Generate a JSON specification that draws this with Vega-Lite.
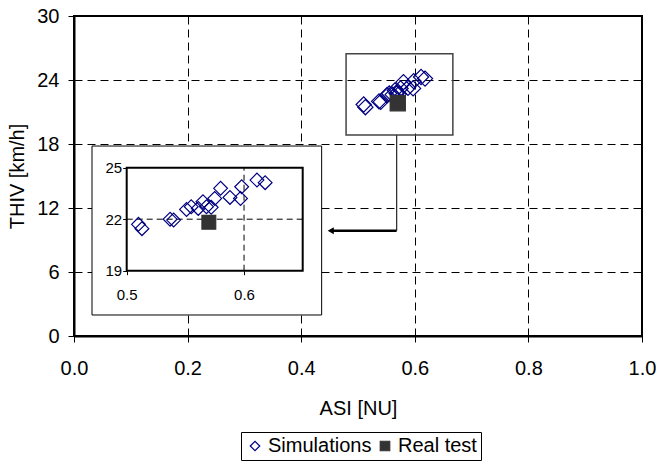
{
  "$schema": "https://vega.github.io/schema/vega-lite/v6.json",
  "width": 568,
  "height": 320,
  "autosize": {"type": "none"},
  "padding": {"left": 74, "top": 16, "right": 14, "bottom": 129},
  "background": "white",
  "config": {
    "font": "Liberation Sans",
    "view": {"stroke": "black", "strokeWidth": 2},
    "axis": {"labelColor": "black", "titleColor": "black", "titleFontWeight": "normal", "labelFlush": false, "labelOverlap": false, "tickColor": "black", "domainColor": "black"},
    "legend": {"orient": "none", "legendX": 167, "legendY": 416, "direction": "horizontal", "title": null, "strokeColor": "black", "padding": 4, "labelFontSize": 20, "labelColor": "black", "symbolSize": 90, "symbolStrokeWidth": 1.2, "columnPadding": 3, "labelOffset": 3}
  },
  "datasets": {
    "pts": [
      {"asi": 0.510, "thiv": 21.70, "series": "Simulations"},
      {"asi": 0.513, "thiv": 21.45, "series": "Simulations"},
      {"asi": 0.537, "thiv": 22.00, "series": "Simulations"},
      {"asi": 0.540, "thiv": 21.95, "series": "Simulations"},
      {"asi": 0.551, "thiv": 22.57, "series": "Simulations"},
      {"asi": 0.555, "thiv": 22.73, "series": "Simulations"},
      {"asi": 0.561, "thiv": 22.63, "series": "Simulations"},
      {"asi": 0.565, "thiv": 23.02, "series": "Simulations"},
      {"asi": 0.568, "thiv": 22.73, "series": "Simulations"},
      {"asi": 0.572, "thiv": 22.69, "series": "Simulations"},
      {"asi": 0.575, "thiv": 23.21, "series": "Simulations"},
      {"asi": 0.580, "thiv": 23.80, "series": "Simulations"},
      {"asi": 0.588, "thiv": 23.27, "series": "Simulations"},
      {"asi": 0.597, "thiv": 23.21, "series": "Simulations"},
      {"asi": 0.598, "thiv": 23.89, "series": "Simulations"},
      {"asi": 0.611, "thiv": 24.28, "series": "Simulations"},
      {"asi": 0.618, "thiv": 24.13, "series": "Simulations"},
      {"asi": 0.570, "thiv": 21.82, "series": "Real test"}
    ],
    "zoombox": [{"x1": 0.479, "x2": 0.667, "y1": 18.84, "y2": 26.47}],
    "insetbox": [{"x1": 0.0317, "x2": 0.436, "y1": 1.97, "y2": 17.81}],
    "arrowv": [{"x": 0.568, "y1": 18.84, "y2": 9.87}],
    "arrowh": [{"x1": 0.451, "x2": 0.568, "y": 9.87}],
    "arrowhead": [{"x": 0.452, "y": 9.87}],
    "innerbox": [{"x1": 0.5, "x2": 0.65, "y1": 19, "y2": 25}],
    "igridv": [{"x": 0.6, "y1": 19, "y2": 25}],
    "igridh": [{"x1": 0.5, "x2": 0.65, "y": 22}]
  },
  "layer": [
    {
      "layer": [
        {
          "data": {"name": "zoombox"},
          "mark": {"type": "rect", "fill": null, "fillOpacity": 0, "stroke": "#444444", "strokeWidth": 1.5},
          "encoding": {
            "x": {"field": "x1", "type": "quantitative", "title": "ASI [NU]",
              "scale": {"domain": [0, 1], "nice": false, "zero": false},
              "axis": {"values": [0, 0.2, 0.4, 0.6, 0.8, 1.0], "format": ".1f", "grid": true, "gridDash": [8, 5], "gridColor": "black", "gridOpacity": 1, "gridWidth": 1, "domainWidth": 2, "tickSize": 6, "labelFontSize": 20, "labelPadding": 16, "titleFontSize": 20, "titlePadding": 20}},
            "x2": {"field": "x2"},
            "y": {"field": "y1", "type": "quantitative", "title": "THIV [km/h]",
              "scale": {"domain": [0, 30], "nice": false, "zero": false},
              "axis": {"values": [0, 6, 12, 18, 24, 30], "grid": true, "gridDash": [8, 5], "gridColor": "black", "gridOpacity": 1, "gridWidth": 1, "domainWidth": 2, "tickSize": 6, "labelFontSize": 20, "labelPadding": 9, "titleFontSize": 20, "titlePadding": 9}},
            "y2": {"field": "y2"}
          }
        },
        {
          "data": {"name": "insetbox"},
          "mark": {"type": "rect", "fill": "white", "stroke": "black", "strokeWidth": 1},
          "encoding": {
            "x": {"field": "x1", "type": "quantitative", "title": "ASI [NU]"},
            "x2": {"field": "x2"},
            "y": {"field": "y1", "type": "quantitative", "title": "THIV [km/h]"},
            "y2": {"field": "y2"}
          }
        },
        {
          "data": {"name": "arrowv"},
          "mark": {"type": "rule", "color": "#333333", "strokeWidth": 1.3},
          "encoding": {
            "x": {"field": "x", "type": "quantitative", "title": "ASI [NU]"},
            "y": {"field": "y1", "type": "quantitative", "title": "THIV [km/h]"},
            "y2": {"field": "y2"}
          }
        },
        {
          "data": {"name": "arrowh"},
          "mark": {"type": "rule", "color": "black", "strokeWidth": 2.5},
          "encoding": {
            "x": {"field": "x1", "type": "quantitative", "title": "ASI [NU]"},
            "x2": {"field": "x2"},
            "y": {"field": "y", "type": "quantitative", "title": "THIV [km/h]"}
          }
        },
        {
          "data": {"name": "arrowhead"},
          "mark": {"type": "point", "shape": "triangle-left", "filled": true, "color": "black", "size": 50, "opacity": 1},
          "encoding": {
            "x": {"field": "x", "type": "quantitative", "title": "ASI [NU]"},
            "y": {"field": "y", "type": "quantitative", "title": "THIV [km/h]"}
          }
        },
        {
          "data": {"name": "pts"},
          "mark": {"type": "point", "filled": true, "size": 230, "strokeWidth": 1.2, "opacity": 1},
          "encoding": {
            "x": {"field": "asi", "type": "quantitative", "title": "ASI [NU]"},
            "y": {"field": "thiv", "type": "quantitative", "title": "THIV [km/h]"},
            "shape": {"field": "series", "type": "nominal", "scale": {"domain": ["Simulations", "Real test"], "range": ["diamond", "square"]}},
            "fill": {"field": "series", "type": "nominal", "scale": {"domain": ["Simulations", "Real test"], "range": ["rgba(0,0,0,0)", "#333333"]}},
            "stroke": {"field": "series", "type": "nominal", "scale": {"domain": ["Simulations", "Real test"], "range": ["#000080", "#333333"]}}
          }
        }
      ]
    },
    {
      "layer": [
        {
          "data": {"name": "innerbox"},
          "mark": {"type": "rect", "fill": null, "fillOpacity": 0, "stroke": "black", "strokeWidth": 2},
          "encoding": {
            "x": {"field": "x1", "type": "quantitative", "title": null,
              "scale": {"domain": [0.5, 0.65], "range": [52.7, 228.7], "nice": false, "zero": false},
              "axis": {"orient": "bottom", "offset": -65.3, "values": [0.5, 0.6], "format": ".1f", "grid": false, "domain": false, "tickSize": 4, "labelFontSize": 15, "labelPadding": 13, "zindex": 1}},
            "x2": {"field": "x2"},
            "y": {"field": "y1", "type": "quantitative", "title": null,
              "scale": {"domain": [19, 25], "range": [254.7, 151.7], "nice": false, "zero": false},
              "axis": {"orient": "left", "offset": -52.7, "values": [19, 22, 25], "grid": false, "domain": false, "tickSize": 4, "labelFontSize": 15, "labelPadding": 1, "zindex": 1}},
            "y2": {"field": "y2"}
          }
        },
        {
          "data": {"name": "igridv"},
          "mark": {"type": "rule", "color": "black", "strokeWidth": 1, "strokeDash": [6, 4]},
          "encoding": {
            "x": {"field": "x", "type": "quantitative", "title": null},
            "y": {"field": "y1", "type": "quantitative", "title": null},
            "y2": {"field": "y2"}
          }
        },
        {
          "data": {"name": "igridh"},
          "mark": {"type": "rule", "color": "black", "strokeWidth": 1, "strokeDash": [6, 4]},
          "encoding": {
            "x": {"field": "x1", "type": "quantitative", "title": null},
            "x2": {"field": "x2"},
            "y": {"field": "y", "type": "quantitative", "title": null}
          }
        },
        {
          "data": {"name": "pts"},
          "mark": {"type": "point", "filled": true, "size": 190, "strokeWidth": 1.2, "opacity": 1},
          "encoding": {
            "x": {"field": "asi", "type": "quantitative", "title": null},
            "y": {"field": "thiv", "type": "quantitative", "title": null},
            "shape": {"field": "series", "type": "nominal"},
            "fill": {"field": "series", "type": "nominal"},
            "stroke": {"field": "series", "type": "nominal"}
          }
        }
      ]
    }
  ],
  "resolve": {"scale": {"x": "independent", "y": "independent"}}
}
